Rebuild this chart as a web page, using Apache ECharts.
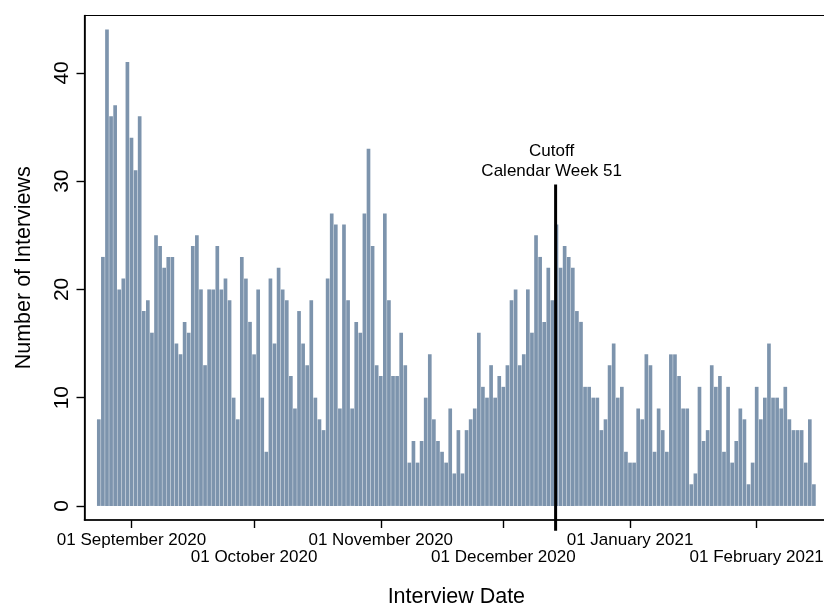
<!DOCTYPE html>
<html>
<head>
<meta charset="utf-8">
<script src="https://cdn.jsdelivr.net/npm/echarts@6/dist/echarts.min.js"></script>
<style>
html, body { margin: 0; padding: 0; background: #fff; }
#chart { width: 824px; height: 606px; }
</style>
</head>
<body>
<div id="chart"></div>
<script>
// daily interviews, first day 24 Aug 2020
var firstDay = '2020-08-24';
var counts = [
	8, 23, 44, 36, 37, 20, 21, 41, 34, 31,
	36, 18, 19, 16, 25, 24, 22, 23, 23, 15,
	14, 17, 16, 24, 25, 20, 13, 20, 20, 24,
	20, 21, 19, 10, 8, 23, 21, 17, 14, 20,
	10, 5, 21, 15, 22, 20, 19, 12, 9, 18,
	15, 13, 19, 10, 8, 7, 21, 27, 26, 9,
	26, 19, 9, 17, 16, 27, 33, 24, 13, 12,
	27, 19, 12, 12, 16, 13, 4, 6, 4, 6,
	10, 14, 8, 6, 5, 4, 9, 3, 7, 3,
	7, 8, 9, 16, 11, 10, 13, 10, 12, 11,
	13, 19, 20, 13, 14, 20, 16, 25, 23, 17,
	22, 19, 26, 22, 24, 23, 22, 18, 17, 11,
	11, 10, 10, 7, 8, 13, 15, 10, 11, 5,
	4, 4, 9, 8, 14, 13, 5, 9, 7, 5,
	14, 14, 12, 9, 9, 2, 3, 11, 6, 7,
	13, 11, 12, 5, 11, 4, 6, 9, 8, 2,
	4, 11, 8, 10, 15, 10, 10, 9, 11, 8,
	7, 7, 7, 4, 8, 2
];
var tickDates = ['2020-09-01', '2020-10-01', '2020-11-01', '2020-12-01', '2021-01-01', '2021-02-01'];
var tickLabels = ['01 September 2020', '01 October 2020', '01 November 2020', '01 December 2020', '01 January 2021', '01 February 2021'];
var yTicks = [0, 10, 20, 30, 40];
var cutoffText = ['Cutoff', 'Calendar Week 51'];
var cutoffDate = '2020-12-13';
var cutoffHour = 19;
var cutoffTop = 29.7;
var cutoffBottom = -2.3;

// day number counted from firstDay (UTC, so no DST drift)
function dayNo(s) {
	var a = s.split('-'), b = firstDay.split('-');
	return Math.round((Date.UTC(+a[0], a[1] - 1, +a[2]) - Date.UTC(+b[0], b[1] - 1, +b[2])) / 86400000);
}

var barData = [];
for (var i = 0; i < counts.length; i++) {
	barData.push([i, counts[i]]);
}
var tickDays = tickDates.map(dayNo);
// labels alternate between two rows, so each row is its own axis
var rowA = tickDays.filter(function (d, k) { return k % 2 === 0; });
var rowB = tickDays.filter(function (d, k) { return k % 2 === 1; });
var cutoffX = dayNo(cutoffDate) + cutoffHour / 24;

var font = "'Liberation Sans', Arial, sans-serif";

function dateLabel(v) {
	var k = tickDays.indexOf(Math.round(v));
	return k < 0 ? '' : tickLabels[k];
}

var myChart = echarts.init(document.getElementById('chart'));
var option = {
	animation: false,
	backgroundColor: '#fff',
	textStyle: { fontFamily: font, color: '#000' },
	grid: {
		left: 84.5, top: 15.5, width: 743.7, height: 504.5,
		outerBoundsMode: 'none',
		show: true, borderColor: '#000', borderWidth: 1.2, backgroundColor: '#fff'
	},
	xAxis: [
		{
			type: 'value',
			min: -3.5,
			max: 178.5,
			name: 'Interview Date',
			nameLocation: 'middle',
			nameGap: 66,
			nameMoveOverlap: false,
			nameTextStyle: { fontSize: 21.5, color: '#000', fontFamily: font },
			axisLine: { show: true, onZero: false, lineStyle: { color: '#000', width: 1.6 } },
			axisTick: { show: true, length: 8, customValues: tickDays, lineStyle: { color: '#000', width: 1.4 } },
			axisLabel: {
				customValues: rowA,
				showMinLabel: true, showMaxLabel: true, hideOverlap: false,
				fontSize: 17, lineHeight: 18, margin: 11, color: '#000', fontFamily: font,
				formatter: dateLabel
			},
			splitLine: { show: false }
		},
		{
			type: 'value',
			position: 'bottom',
			min: -3.5,
			max: 178.5,
			axisLine: { show: false, onZero: false },
			axisTick: { show: false },
			axisLabel: {
				customValues: rowB,
				showMinLabel: true, showMaxLabel: true, hideOverlap: false,
				fontSize: 17, lineHeight: 18, margin: 28.5, color: '#000', fontFamily: font,
				formatter: dateLabel
			},
			splitLine: { show: false }
		}
	],
	yAxis: {
		type: 'value',
		min: -1.3,
		max: 45.3,
		name: 'Number of Interviews',
		nameLocation: 'middle',
		nameGap: 49,
		nameMoveOverlap: false,
		nameTextStyle: { fontSize: 21.5, color: '#000', fontFamily: font },
		axisLine: { show: true, onZero: false, lineStyle: { color: '#000', width: 1.6 } },
		axisTick: { show: true, length: 8, customValues: yTicks, lineStyle: { color: '#000', width: 1.4 } },
		axisLabel: { customValues: yTicks, rotate: 90, fontSize: 21, margin: 12, color: '#000', fontFamily: font },
		splitLine: { show: false }
	},
	series: [
		{
			name: 'Interviews',
			type: 'bar',
			data: barData,
			barCategoryGap: '10%',
			itemStyle: { color: '#7d94ad' },
			silent: true
		},
		{
			name: 'Cutoff',
			type: 'line',
			clip: false,
			silent: true,
			symbol: 'circle',
			symbolSize: 0,
			lineStyle: { color: '#000', width: 3 },
			data: [
				{
					value: [cutoffX, cutoffTop],
					label: {
						show: true, position: 'top', distance: 3.5, offset: [-4, 0],
						formatter: cutoffText.join('\n'),
						fontSize: 17, lineHeight: 19.5, color: '#000', fontFamily: font
					}
				},
				[cutoffX, cutoffBottom]
			]
		}
	]
};
myChart.setOption(option);
</script>
</body>
</html>
